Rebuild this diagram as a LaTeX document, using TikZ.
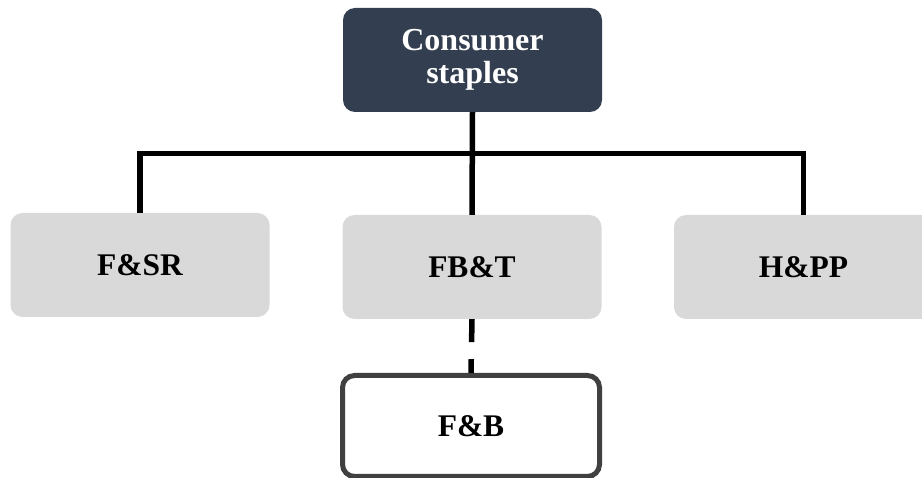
\documentclass[tikz,border=0pt]{standalone}
\usepackage{fontspec}
\setmainfont{Liberation Serif}
\usetikzlibrary{positioning}
\definecolor{Navy}{HTML}{333F50}
\definecolor{Grey}{HTML}{D9D9D9}
\definecolor{Edge}{HTML}{404040}
\tikzset{head/.style={rounded corners=12pt,fill=Navy,text=white,minimum width=259pt,minimum height=104pt,align=center,font=\fontsize{32}{33}\selectfont\bfseries},sector/.style={rounded corners=12pt,fill=Grey,minimum width=259pt,minimum height=104pt,align=center,font=\fontsize{31.5}{32}\selectfont\bfseries},sub/.style={rounded corners=12pt,draw=Edge,line width=5pt,fill=white,minimum width=257pt,minimum height=101pt,align=center,font=\fontsize{31.5}{32}\selectfont\bfseries},link/.style={line width=5.5pt,black}}
\begin{document}
\begin{tikzpicture}[x=1pt,y=-1pt]
        \useasboundingbox (0,0) rectangle (922,478);
        \node[head](staples)at(472.5,60){Consumer\\staples};
        \node[sector](fsr)at(140,265){F\&SR};
        \node[sector](fbt)at(472,267){FB\&T};
        \node[sector](hpp)at(803.5,267){H\&PP};
        \node[sub](fb)at(471,426){F\&B};
        \coordinate(bus)at(472,153.5);
        \draw[link](staples.south)--(fbt.north);
        \draw[link](fsr.north)|-(bus)-|(hpp.north);
        \draw[link,dash pattern=on 23pt off 17pt](fbt.south)--(fb.north);
      \end{tikzpicture}
\end{document}
